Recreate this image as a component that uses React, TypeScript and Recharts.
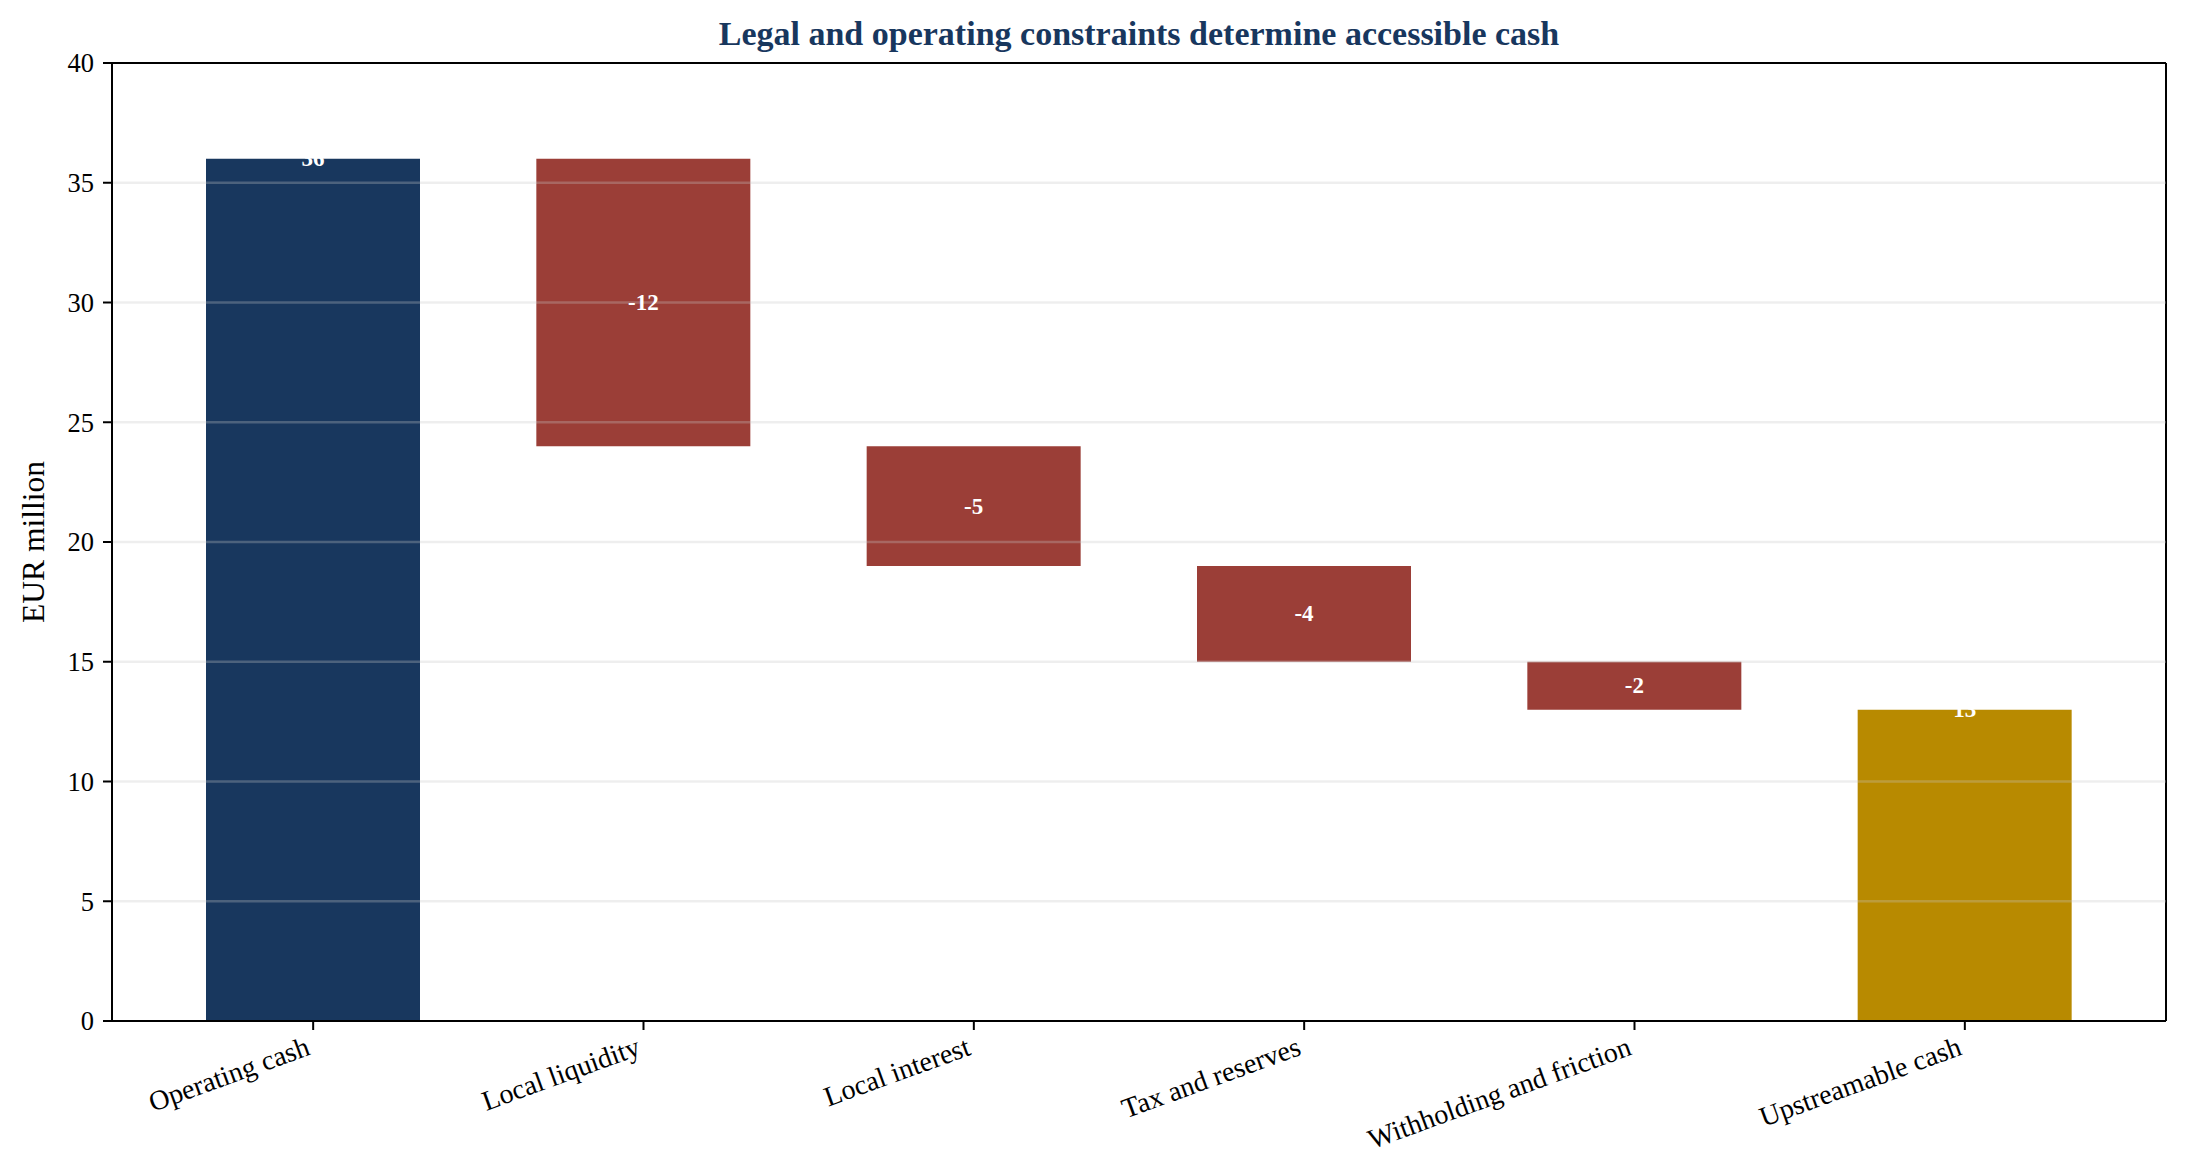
import { Bar, CartesianGrid, Cell, ComposedChart, Label, LabelList, ReferenceLine, XAxis, YAxis } from "recharts"

const categories = [
  "Operating cash",
  "Local liquidity",
  "Local interest",
  "Tax and reserves",
  "Withholding and friction",
  "Upstreamable cash",
]
const amounts = [36, -12, -5, -4, -2, 13]
const stepKinds = ["total", "delta", "delta", "delta", "delta", "total"]
const yTicks = [0, 5, 10, 15, 20, 25, 30, 35, 40]
const gridValues = [5, 10, 15, 20, 25, 30, 35]

const colors = { start: "#18375e", delta: "#9b3e37", end: "#b88a00" }
const serif = "'Liberation Serif', 'Times New Roman', serif"

// running level -> floating range per step
let level = 0
const rows = categories.map((name, i) => {
  const amt = amounts[i]
  let range: number[]
  if (stepKinds[i] === "total") {
    range = [0, amt]
    level = amt
  } else {
    range = [level + amt, level]
    level = level + amt
  }
  return { name, range, label: `${amt}`, kind: stepKinds[i] }
})

function barColor(i: number) {
  if (stepKinds[i] === "delta") return colors.delta
  return i === 0 ? colors.start : colors.end
}

function XTick(props: any) {
  const { x, y, payload } = props
  return (
    <g transform={`translate(${x},${y + 20}) rotate(-20)`}>
      <text x={0} y={-5} textAnchor="end" fontFamily={serif} fontSize={28} fill="#000">
        {payload.value}
      </text>
    </g>
  )
}

function BarLabel(props: any) {
  const { x, y, width, height, value, index } = props
  const top = Math.min(y, y + height)
  const cy = rows[index]?.kind === "total" ? top : y + height / 2
  return (
    <text
      x={x + width / 2}
      y={cy}
      textAnchor="middle"
      dominantBaseline="central"
      fontFamily={serif}
      fontWeight="bold"
      fontSize={23}
      fill="#ffffff"
    >
      {value}
    </text>
  )
}

function Title(props: any) {
  const vb = props.viewBox
  return (
    <text
      x={vb.x + vb.width / 2}
      y={45}
      textAnchor="middle"
      fontFamily={serif}
      fontWeight="bold"
      fontSize={34}
      fill="#18375e"
    >
      Legal and operating constraints determine accessible cash
    </text>
  )
}

export default function App() {
  return (
    <div style={{ position: "absolute", left: 0, top: 0, background: "#fff" }}>
      <ComposedChart
        width={2188}
        height={1172}
        data={rows}
        margin={{ top: 63, right: 22, bottom: 31, left: 32 }}
      >
        {/* only used for the right spine of the frame */}
        <CartesianGrid
          horizontal={false}
          stroke="#000"
          strokeWidth={2}
          verticalCoordinatesGenerator={({ offset }: any) => [offset.left + offset.width]}
        />
        <XAxis
          dataKey="name"
          height={120}
          padding={{ left: 36, right: 36 }}
          tick={<XTick />}
          tickSize={9}
          tickMargin={9}
          interval={0}
          axisLine={{ stroke: "#000", strokeWidth: 2 }}
          tickLine={{ stroke: "#000", strokeWidth: 2 }}
        />
        <YAxis
          width={80}
          domain={[0, 40]}
          ticks={yTicks}
          interval={0}
          tickSize={9}
          tickMargin={9}
          tick={{ fontFamily: serif, fontSize: 26.5, fill: "#000" }}
          axisLine={{ stroke: "#000", strokeWidth: 2 }}
          tickLine={{ stroke: "#000", strokeWidth: 2 }}
        >
          <Label
            content={(p: any) => {
              const vb = p.viewBox
              const cy = vb.y + vb.height / 2
              return (
                <text
                  x={33}
                  y={cy}
                  transform={`rotate(-90, 33, ${cy})`}
                  textAnchor="middle"
                  dominantBaseline="central"
                  fontFamily={serif}
                  fontSize={31.5}
                  fill="#000"
                >
                  EUR million
                </text>
              )
            }}
          />
        </YAxis>
        <Bar dataKey="range" barSize={214} isAnimationActive={false}>
          {rows.map((r, i) => (
            <Cell key={r.name} fill={barColor(i)} />
          ))}
          <LabelList dataKey="label" content={<BarLabel />} />
        </Bar>
        {gridValues.map((v) => (
          <ReferenceLine key={v} y={v} stroke="#c8c8c8" strokeOpacity={0.3} strokeWidth={2.5} />
        ))}
        <ReferenceLine y={40} stroke="#000" strokeWidth={2} label={<Title />} />
      </ComposedChart>
    </div>
  )
}
